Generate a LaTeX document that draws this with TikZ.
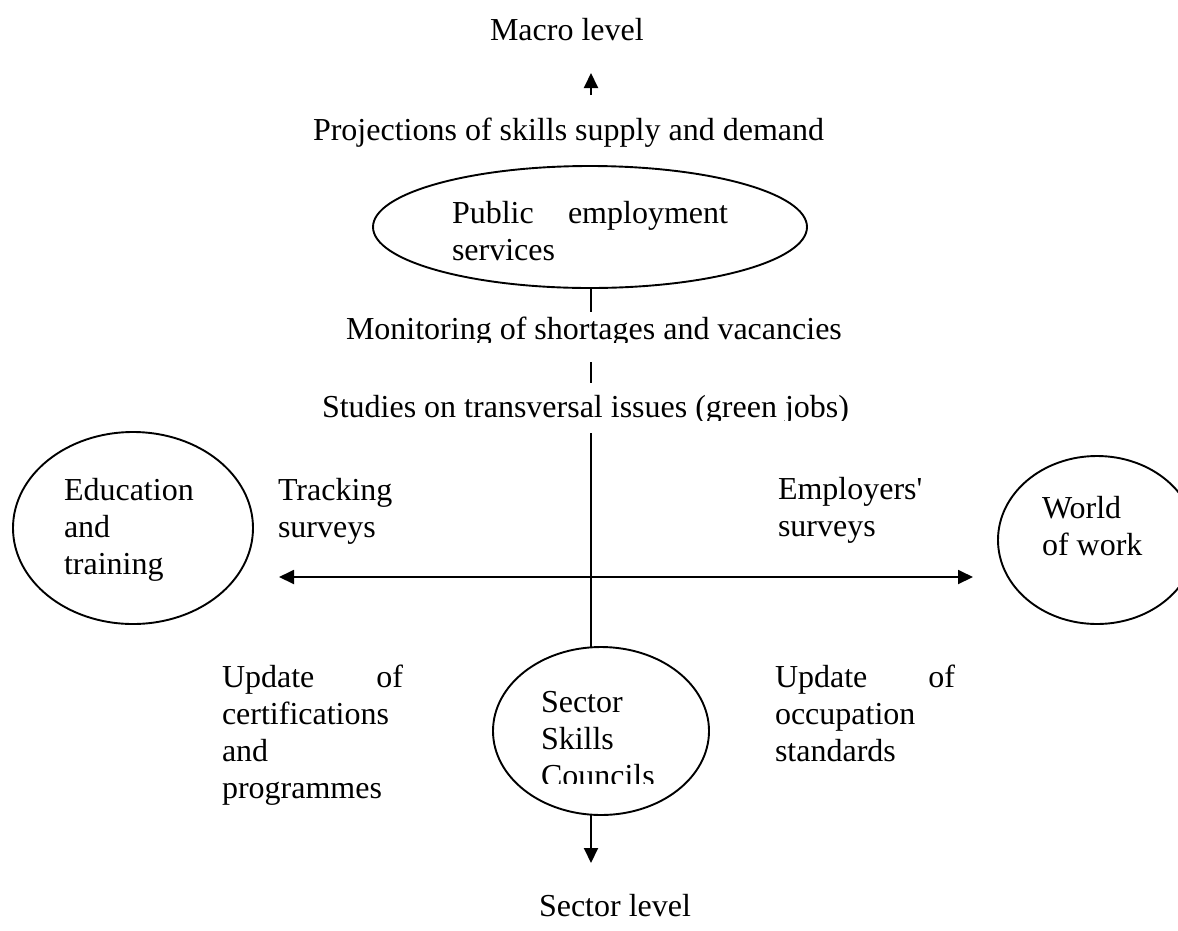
\documentclass[tikz,border=0pt]{standalone}
\usepackage{fontspec}
\setmainfont{Liberation Serif}
\usetikzlibrary{arrows.meta,shapes.geometric}
\begin{document}
\begin{tikzpicture}[x=1pt,y=-1pt,
  txt/.style={anchor=base west, inner sep=0pt, outer sep=0pt, font=\fontsize{32}{37}\selectfont},
  oval/.style={draw, line width=1.9pt, ellipse, inner sep=0pt, outer sep=0pt},
  con/.style={line width=1.9pt},
  tipend/.style={-{Triangle[length=15pt,width=14pt]}},
  tipboth/.style={{Triangle[length=15pt,width=14pt]}-{Triangle[length=15pt,width=14pt]}}]
\clip (0,0) rectangle (1178,930);
% top
\node[txt] (macro) at (490,40) {Macro level};
\coordinate (upb) at (591,95);
\coordinate (upt) at (591,73);
\draw[con,tipend] (upb) -- (upt);
\node[txt] (proj) at (313,140) {Projections of skills supply and demand};
% public employment services
\node[oval, minimum width=434pt, minimum height=122pt] (pes) at (590,227) {};
\node[txt] (pestext) at (452,223) {\vtop{\hbox to 276pt{Public\hfill employment}\hbox{services}}};
\coordinate (s1) at (591,312);
\draw[con] (pes.south -| s1) -- (s1);
\begin{scope}
  \clip (300,300) rectangle (900,342);
  \node[txt] (mon) at (346,339) {Monitoring of shortages and vacancies};
\end{scope}
\coordinate (s2a) at (591,362);
\coordinate (s2b) at (591,383);
\draw[con] (s2a) -- (s2b);
\begin{scope}
  \clip (300,385) rectangle (900,420);
  \node[txt] (stud) at (322,417) {Studies on transversal issues (green jobs)};
\end{scope}
% sector skills councils
\node[oval, minimum width=216pt, minimum height=168pt] (sec) at (601,731) {};
\coordinate (vtop) at (591,433);
\draw[con] (vtop) -- (vtop |- sec.north);
% horizontal arrow
\coordinate (hl) at (279,577);
\coordinate (hr) at (973,577);
\draw[con,tipboth] (hl) -- (hr);
% education and training
\node[oval, minimum width=240pt, minimum height=192pt] (edu) at (133,528) {};
\node[txt] (edutext) at (64,500) {\vtop{\hbox{Education}\hbox{and}\hbox{training}}};
\node[txt] (track) at (278,500) {\vtop{\hbox{Tracking}\hbox{surveys}}};
% world of work
\node[txt] (empl) at (778,499) {\vtop{\hbox{Employers\textquotesingle}\hbox{surveys}}};
\node[oval, minimum width=198pt, minimum height=168pt] (wow) at (1097,540) {};
\node[txt] (wowtext) at (1042,518) {\vtop{\hbox{World}\hbox{of work}}};
% updates
\node[txt] (updl) at (222,687) {\vtop{\hbox to 181pt{Update\hfill of}\hbox{certifications}\hbox{and}\hbox{programmes}}};
\node[txt] (updr) at (775,687) {\vtop{\hbox to 180pt{Update\hfill of}\hbox{occupation}\hbox{standards}}};
\begin{scope}
  \clip (500,650) rectangle (720,783);
  \node[txt] (sectext) at (541,712) {\vtop{\hbox{Sector}\hbox{Skills}\hbox{Councils}}};
\end{scope}
\coordinate (dn) at (591,863);
\draw[con,tipend] (dn |- sec.south) -- (dn);
\node[txt] (seclev) at (539,916) {Sector level};
\end{tikzpicture}
\end{document}
